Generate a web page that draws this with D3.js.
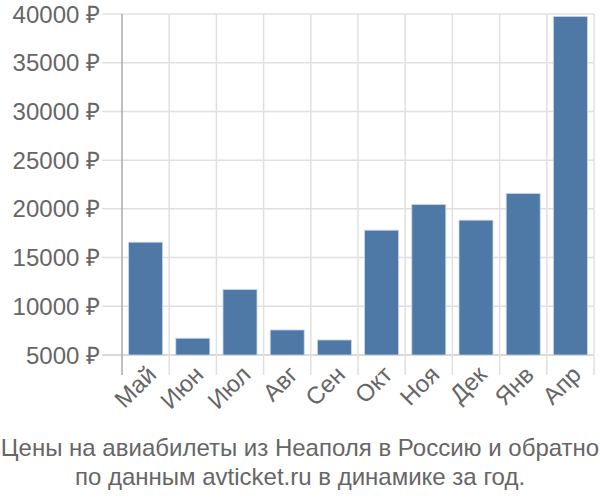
<!DOCTYPE html>
<html>
<head>
<meta charset="utf-8">
<script src="https://cdn.jsdelivr.net/npm/d3@7"></script>
<style>
    body { margin: 0; background: #fff; }
    text { font-family: "Liberation Sans", Arial, sans-serif; fill: #666; }
</style>
</head>
<body>
<div id="chart"></div>
<script>
// Months and average ticket prices (rub)
const months = ["Май", "Июн", "Июл", "Авг", "Сен", "Окт", "Ноя", "Дек", "Янв", "Апр"];
const prices = [16580, 6720, 11710, 7570, 6540, 17810, 20440, 18840, 21570, 39750];
const yTicks = [5000, 10000, 15000, 20000, 25000, 30000, 35000, 40000];
const titleLines = [
    "Цены на авиабилеты из Неаполя в Россию и обратно",
    "по данным avticket.ru в динамике за год."
];

const config = {
    containerWidth: 600,
    containerHeight: 500,
    margin: { top: 14, right: 6, bottom: 145, left: 122 }
};

const width = config.containerWidth - config.margin.left - config.margin.right;
const height = config.containerHeight - config.margin.top - config.margin.bottom;

const svg = d3.select("#chart").append("svg")
    .attr("width", config.containerWidth)
    .attr("height", config.containerHeight);

const chart = svg.append("g")
    .attr("transform", `translate(${config.margin.left},${config.margin.top})`);

// Scales
const xScale = d3.scaleBand()
    .domain(months)
    .range([0, width])
    .paddingInner(0.28)
    .paddingOuter(0.14);

const yScale = d3.scaleLinear()
    .domain([5000, 40000])
    .range([height, 0]);

// Horizontal gridlines + y labels
chart.selectAll(".hgrid")
    .data(yTicks)
    .join("line")
    .attr("class", "hgrid")
    .attr("x1", -20)
    .attr("x2", width)
    .attr("y1", d => yScale(d))
    .attr("y2", d => yScale(d))
    .attr("stroke", d => d === 5000 ? "#ccc" : "#e0e0e0")
    .attr("stroke-width", 1.5);

chart.selectAll(".ylabel")
    .data(yTicks)
    .join("text")
    .attr("class", "ylabel")
    .attr("x", -22)
    .attr("y", d => yScale(d))
    .attr("dy", "0.36em")
    .style("text-anchor", "end")
    .style("font-size", "24px")
    .text(d => d + " ₽");

// Vertical gridlines at band boundaries
const bounds = months.map(m => xScale(m) - xScale.step() * xScale.paddingInner() / 2).concat([width]);
chart.selectAll(".vgrid")
    .data(bounds.slice(1))
    .join("line")
    .attr("class", "vgrid")
    .attr("x1", d => d)
    .attr("x2", d => d)
    .attr("y1", 0)
    .attr("y2", height + 20)
    .attr("stroke", "#e0e0e0")
    .attr("stroke-width", 1.5);

// Y axis line
chart.append("line")
    .attr("x1", 0).attr("x2", 0)
    .attr("y1", 0).attr("y2", height + 20)
    .attr("stroke", "#aaa")
    .attr("stroke-width", 1.5);

// Bars
chart.selectAll(".bar")
    .data(prices)
    .join("rect")
    .attr("class", "bar")
    .attr("x", (d, i) => xScale(months[i]))
    .attr("width", xScale.bandwidth())
    .attr("y", d => yScale(d))
    .attr("height", d => height - yScale(d))
    .attr("fill", "#4e79a7")
    .attr("stroke", "#c8d6e5")
    .attr("stroke-width", 0.8);

// X labels
chart.selectAll(".xlabel")
    .data(months)
    .join("text")
    .attr("class", "xlabel")
    .attr("transform", d => `translate(${xScale(d) + xScale.bandwidth() / 2 + 6},${height + 15}) rotate(-45)`)
    .attr("dy", "0.36em")
    .style("text-anchor", "end")
    .style("font-size", "24px")
    .text(d => d);

// Title
svg.selectAll(".title")
    .data(titleLines)
    .join("text")
    .attr("class", "title")
    .attr("x", config.containerWidth / 2)
    .attr("y", (d, i) => 456 + i * 29)
    .style("text-anchor", "middle")
    .style("font-size", "24px")
    .text(d => d);
</script>
</body>
</html>
